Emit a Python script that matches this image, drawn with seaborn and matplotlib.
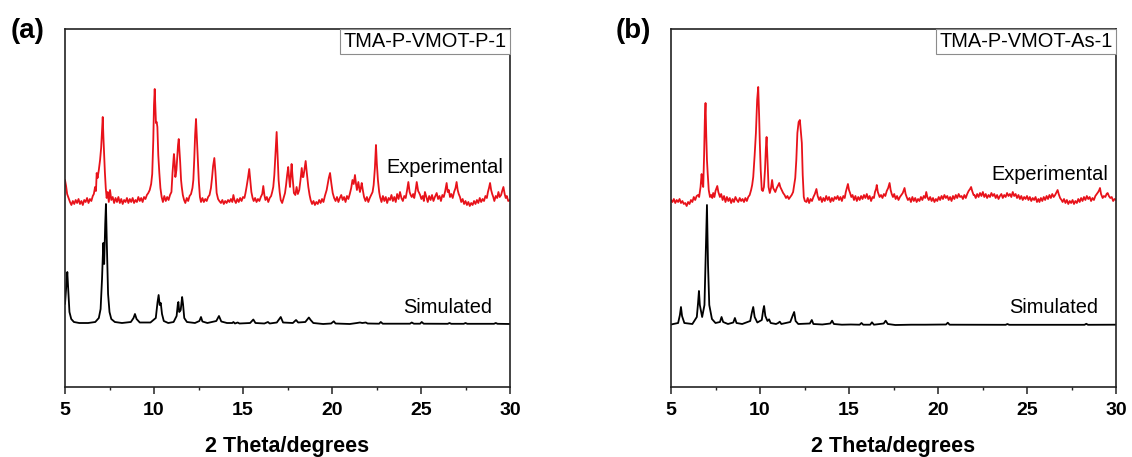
import matplotlib
matplotlib.use("Agg")
import matplotlib.pyplot as plt
from matplotlib.ticker import MultipleLocator
import seaborn as sns
import pandas as pd

# ---------------- data (2theta in degrees, intensity in a.u. above each trace's baseline) -------------
# Panel (a) TMA-P-VMOT-P-1, experimental pattern (traced vertices)
exp_a = [
    (5.00, 20), (5.06, 14), (5.12, 6), (5.20, 2), (5.28, -2), (5.36, -5), (5.44, -1), (5.52, -4),
    (5.60, 0), (5.68, -3), (5.76, 1), (5.84, -4), (5.92, -1), (6.00, -5), (6.08, 0), (6.16, -2),
    (6.24, 2), (6.32, -3), (6.40, 1), (6.48, -1), (6.56, 4), (6.62, 6), (6.69, 13), (6.74, 9),
    (6.78, 27), (6.83, 22), (6.90, 30), (6.97, 40), (7.03, 52), (7.08, 70), (7.12, 83), (7.16, 62),
    (7.20, 45), (7.24, 28), (7.29, 12), (7.34, 2), (7.40, 8), (7.46, -2), (7.53, 10), (7.60, 0),
    (7.68, 3), (7.76, -3), (7.84, 2), (7.92, -2), (8.00, 3), (8.08, -3), (8.16, 1), (8.24, -4),
    (8.32, 0), (8.40, -2), (8.48, 2), (8.56, -3), (8.64, 1), (8.72, -2), (8.80, 2), (8.88, -3),
    (8.96, 0), (9.04, -2), (9.12, 3), (9.20, -1), (9.28, 2), (9.36, -2), (9.44, 3), (9.52, 1),
    (9.60, 5), (9.68, 7), (9.76, 10), (9.84, 16), (9.90, 26), (9.96, 60), (10.00, 95), (10.04, 111),
    (10.08, 90), (10.11, 77), (10.15, 78), (10.19, 73), (10.24, 45), (10.30, 27), (10.36, 12),
    (10.43, 3), (10.50, -2), (10.58, 4), (10.66, -1), (10.74, 3), (10.82, 0), (10.90, 5), (10.98, 8),
    (11.04, 27), (11.12, 46), (11.16, 38), (11.20, 23), (11.26, 30), (11.31, 43), (11.35, 55),
    (11.39, 61), (11.43, 50), (11.47, 38), (11.52, 20), (11.56, 13), (11.62, 5), (11.69, 0),
    (11.76, -3), (11.84, 2), (11.92, -1), (12.00, 4), (12.08, 6), (12.16, 12), (12.21, 20),
    (12.26, 40), (12.31, 65), (12.36, 81), (12.41, 62), (12.47, 40), (12.52, 18), (12.58, 3),
    (12.64, -2), (12.72, 2), (12.80, -2), (12.88, 1), (12.96, -1), (13.04, 3), (13.12, 5),
    (13.20, 12), (13.26, 22), (13.32, 34), (13.39, 42), (13.45, 28), (13.52, 7), (13.60, 1),
    (13.67, -1), (13.76, -3), (13.84, 0), (13.92, -4), (14.00, -1), (14.08, -3), (14.16, 0),
    (14.24, -2), (14.32, 1), (14.40, -2), (14.46, 5), (14.52, 0), (14.60, -3), (14.68, 1),
    (14.76, -2), (14.84, 2), (14.92, -1), (15.00, 3), (15.08, 2), (15.14, 7), (15.20, 13),
    (15.28, 22), (15.35, 31), (15.41, 20), (15.47, 8), (15.54, 2), (15.60, -1), (15.68, 2),
    (15.76, -2), (15.84, 1), (15.92, -1), (16.00, 3), (16.08, 6), (16.14, 14), (16.20, 5),
    (16.26, 0), (16.34, 3), (16.42, -2), (16.50, 2), (16.58, 4), (16.64, 8), (16.70, 13),
    (16.76, 25), (16.82, 45), (16.89, 68), (16.94, 45), (17.00, 20), (17.06, 8), (17.12, 0),
    (17.20, -3), (17.28, 2), (17.36, 7), (17.42, 15), (17.48, 25), (17.54, 33), (17.59, 22),
    (17.64, 13), (17.69, 26), (17.73, 36), (17.78, 24), (17.86, 7), (17.94, 5), (18.01, 13),
    (18.08, 6), (18.16, 10), (18.23, 20), (18.30, 32), (18.35, 23), (18.39, 23), (18.45, 30),
    (18.52, 39), (18.58, 28), (18.67, 13), (18.74, 5), (18.80, 0), (18.88, -4), (18.96, -1),
    (19.04, -5), (19.12, -2), (19.20, -4), (19.28, 0), (19.36, -3), (19.44, 1), (19.52, -2),
    (19.60, 4), (19.70, 10), (19.76, 16), (19.82, 22), (19.89, 27), (19.96, 17), (20.04, 7),
    (20.12, 2), (20.20, -1), (20.28, 3), (20.36, -2), (20.44, 2), (20.52, 5), (20.60, 0),
    (20.68, 3), (20.76, -2), (20.84, 4), (20.92, 1), (21.00, 6), (21.08, 12), (21.15, 20),
    (21.22, 16), (21.29, 25), (21.35, 16), (21.40, 10), (21.48, 18), (21.53, 12), (21.57, 8),
    (21.62, 12), (21.67, 17), (21.74, 9), (21.80, 3), (21.88, -1), (21.96, 3), (22.04, -2),
    (22.12, 2), (22.20, 5), (22.28, 8), (22.34, 15), (22.41, 32), (22.47, 55), (22.52, 36),
    (22.58, 20), (22.65, 8), (22.70, 3), (22.78, -2), (22.86, 4), (22.94, -1), (23.02, 3),
    (23.10, -3), (23.18, 2), (23.26, 0), (23.34, 5), (23.42, -1), (23.50, 3), (23.58, -2),
    (23.66, 6), (23.74, 1), (23.82, 8), (23.90, 2), (23.98, -1), (24.06, 4), (24.14, 2),
    (24.22, 10), (24.29, 18), (24.36, 8), (24.42, 5), (24.48, 3), (24.56, 6), (24.62, 2),
    (24.70, 10), (24.76, 18), (24.84, 9), (24.90, 7), (24.95, 5), (25.02, 1), (25.10, 4),
    (25.16, -1), (25.22, 8), (25.30, 3), (25.38, -2), (25.46, 4), (25.54, 0), (25.62, 5),
    (25.70, -1), (25.78, 3), (25.88, 7), (25.96, 1), (26.04, 4), (26.12, -1), (26.20, 5),
    (26.28, 3), (26.36, 9), (26.44, 17), (26.50, 8), (26.56, 10), (26.63, 3), (26.70, 6),
    (26.78, 2), (26.86, 8), (26.94, 12), (27.00, 18), (27.06, 10), (27.12, 6), (27.19, 3),
    (27.26, -2), (27.34, 1), (27.42, -4), (27.50, -1), (27.58, -5), (27.66, -2), (27.74, -6),
    (27.82, -3), (27.90, -5), (27.98, -1), (28.06, -4), (28.14, 0), (28.22, -3), (28.30, 2),
    (28.38, -2), (28.46, 1), (28.54, -1), (28.62, 4), (28.70, 2), (28.76, 8), (28.82, 12),
    (28.88, 17), (28.94, 10), (29.00, 6), (29.06, 3), (29.12, -1), (29.20, 4), (29.28, 2),
    (29.35, 8), (29.42, 3), (29.50, 5), (29.56, 9), (29.63, 13), (29.70, 6), (29.76, 2),
    (29.82, 4), (29.90, -1), (30.00, 0),
]

# Panel (a) simulated pattern (traced vertices)
sim_a = [
    (5.00, 20), (5.08, 40), (5.13, 52), (5.18, 35), (5.25, 12), (5.35, 5), (5.50, 2), (5.80, 1),
    (6.30, 1), (6.70, 2), (6.90, 6), (7.00, 15), (7.08, 45), (7.15, 81), (7.20, 60), (7.26, 100),
    (7.30, 120), (7.35, 80), (7.42, 30), (7.50, 12), (7.60, 5), (7.80, 2), (8.20, 1), (8.70, 2),
    (8.85, 6), (8.93, 10), (9.02, 5), (9.20, 1.5), (9.80, 1.5), (10.10, 6), (10.20, 22),
    (10.26, 29), (10.32, 19), (10.38, 21), (10.45, 10), (10.55, 3), (10.80, 1), (11.10, 2),
    (11.27, 8), (11.34, 20), (11.37, 22), (11.42, 12), (11.50, 14), (11.58, 27), (11.63, 20),
    (11.70, 6), (11.85, 2), (12.30, 1), (12.55, 3), (12.64, 7), (12.72, 2.5), (13.00, 1),
    (13.50, 3), (13.65, 8), (13.78, 2.5), (14.10, 1), (14.40, 1), (14.46, 2), (14.55, 0.5),
    (14.70, 1.5), (14.80, 0.5), (15.40, 1), (15.58, 4.5), (15.70, 1), (16.20, 0.5), (16.40, 2),
    (16.50, 0.5), (16.90, 1.5), (17.12, 7), (17.25, 1.5), (17.80, 1), (17.98, 4), (18.10, 1.5),
    (18.50, 2), (18.70, 6.5), (18.80, 4), (18.95, 1), (19.50, 0), (19.95, 0.5), (20.10, 2.7),
    (20.20, 0.5), (21.00, 0), (21.40, 1), (21.57, 1.5), (21.70, 1), (21.90, 1.5), (22.00, 0.5),
    (22.65, 0.3), (22.74, 2), (22.85, 0.3), (24.38, 0.3), (24.48, 1.5), (24.60, 0.3), (24.95, 0.3),
    (25.04, 2), (25.15, 0.3), (26.50, 0.2), (26.60, 1), (26.70, 0.2), (27.40, 0.2), (27.50, 1),
    (27.60, 0.2), (29.10, 0.2), (29.20, 1), (29.30, 0.2), (30.00, 0),
]

# Panel (b) TMA-P-VMOT-As-1, experimental pattern (traced vertices)
exp_b = [
    (5.00, 0), (5.08, -2), (5.16, 1), (5.24, -3), (5.32, 0), (5.40, -2), (5.48, 1), (5.56, -3),
    (5.64, -1), (5.72, -4), (5.80, -3), (5.88, -6), (5.96, -2), (6.04, -4), (6.12, 0), (6.20, -2),
    (6.28, 3), (6.36, 0), (6.44, 4), (6.52, 5), (6.58, 3), (6.62, 8), (6.66, 13), (6.72, 26),
    (6.76, 18), (6.81, 13), (6.86, 45), (6.90, 80), (6.94, 97), (6.98, 65), (7.02, 40), (7.06, 27),
    (7.12, 10), (7.19, 3), (7.26, 5), (7.32, 2), (7.37, 7), (7.44, 3), (7.50, 9), (7.56, 12),
    (7.60, 14), (7.66, 8), (7.75, 3), (7.82, 6), (7.90, 0), (7.98, 4), (8.06, -2), (8.14, 3),
    (8.22, -1), (8.30, 2), (8.38, -3), (8.46, 1), (8.54, -2), (8.62, 3), (8.70, 0), (8.78, -2),
    (8.86, 2), (8.94, -1), (9.02, 1), (9.10, -2), (9.18, 2), (9.26, -1), (9.34, 3), (9.42, 5),
    (9.50, 10), (9.56, 15), (9.62, 23), (9.70, 45), (9.77, 67), (9.84, 100), (9.90, 113),
    (9.95, 85), (9.99, 57), (10.04, 30), (10.10, 10), (10.16, 9), (10.22, 13), (10.28, 30),
    (10.33, 52), (10.37, 63), (10.41, 45), (10.45, 25), (10.48, 13), (10.55, 7), (10.62, 12),
    (10.68, 20), (10.74, 12), (10.80, 10), (10.86, 8), (10.94, 12), (11.00, 14), (11.08, 17),
    (11.14, 13), (11.22, 10), (11.30, 7), (11.38, 5), (11.46, 2), (11.54, 4), (11.62, 1),
    (11.70, 3), (11.78, 5), (11.86, 8), (11.92, 15), (11.98, 22), (12.04, 40), (12.10, 67),
    (12.17, 78), (12.24, 80), (12.30, 68), (12.35, 57), (12.40, 25), (12.46, 3), (12.52, -1),
    (12.61, -2), (12.68, 2), (12.76, -3), (12.84, 1), (12.92, -1), (13.00, 3), (13.08, 6),
    (13.17, 11), (13.24, 4), (13.32, 0), (13.40, 3), (13.48, -2), (13.56, 2), (13.64, -1),
    (13.72, 4), (13.80, 0), (13.88, 3), (13.96, -2), (14.04, 2), (14.12, -1), (14.20, 3),
    (14.28, 1), (14.36, 4), (14.44, 0), (14.52, 3), (14.60, -1), (14.68, 4), (14.76, 2),
    (14.82, 8), (14.88, 12), (14.94, 16), (15.00, 10), (15.06, 7), (15.13, 3), (15.20, 5),
    (15.28, 0), (15.36, 4), (15.44, -1), (15.52, 3), (15.60, 0), (15.68, 4), (15.76, 1),
    (15.84, 5), (15.92, 2), (16.00, 6), (16.08, 1), (16.16, 4), (16.24, -1), (16.32, 3),
    (16.40, 2), (16.46, 8), (16.52, 11), (16.56, 15), (16.62, 8), (16.72, 3), (16.80, 5),
    (16.88, 2), (16.96, 6), (17.04, 4), (17.12, 9), (17.20, 12), (17.28, 17), (17.34, 10),
    (17.40, 6), (17.47, 3), (17.54, 6), (17.62, 1), (17.70, 4), (17.78, 0), (17.86, 3),
    (17.94, 5), (18.02, 7), (18.08, 10), (18.12, 12), (18.18, 6), (18.24, 3), (18.31, 0),
    (18.40, 2), (18.48, -2), (18.56, 3), (18.64, -1), (18.72, 2), (18.80, -2), (18.88, 1),
    (18.96, -1), (19.04, 3), (19.12, 0), (19.20, 4), (19.28, 2), (19.34, 8), (19.40, 3),
    (19.48, 0), (19.56, 3), (19.64, -1), (19.72, 2), (19.80, -2), (19.88, 1), (19.96, -1),
    (20.04, 3), (20.12, 0), (20.20, 4), (20.28, 1), (20.36, 5), (20.44, 2), (20.52, 4),
    (20.60, 0), (20.68, 3), (20.76, -1), (20.84, 4), (20.92, 1), (21.00, 5), (21.08, 2),
    (21.16, 6), (21.24, 3), (21.32, 4), (21.40, 1), (21.48, 5), (21.56, 2), (21.64, 6),
    (21.72, 9), (21.80, 11), (21.86, 13), (21.92, 9), (22.00, 5), (22.05, 5), (22.12, 2),
    (22.20, 6), (22.28, 3), (22.36, 7), (22.44, 4), (22.52, 8), (22.60, 3), (22.68, 6),
    (22.76, 2), (22.84, 5), (22.92, 3), (23.00, 7), (23.08, 4), (23.16, 6), (23.24, 2),
    (23.32, 5), (23.40, 1), (23.48, 4), (23.56, 6), (23.64, 2), (23.72, 5), (23.80, 3),
    (23.88, 7), (23.96, 4), (24.04, 6), (24.12, 3), (24.20, 8), (24.28, 4), (24.36, 6),
    (24.44, 2), (24.52, 5), (24.60, 1), (24.68, 4), (24.76, 0), (24.84, 3), (24.92, 1),
    (25.00, 4), (25.08, 0), (25.16, 3), (25.24, -1), (25.32, 2), (25.40, 0), (25.48, 3),
    (25.56, -2), (25.64, 1), (25.70, -2), (25.78, 2), (25.86, -1), (25.94, 3), (26.02, 0),
    (26.10, 4), (26.18, 1), (26.26, 5), (26.34, 2), (26.42, 6), (26.50, 3), (26.58, 5),
    (26.66, 8), (26.72, 10), (26.78, 6), (26.86, 2), (26.94, 0), (27.00, -2), (27.08, 1),
    (27.16, -3), (27.24, 0), (27.32, -4), (27.40, -1), (27.48, -3), (27.56, 0), (27.64, -4),
    (27.72, -1), (27.80, -3), (27.88, 1), (27.96, -2), (28.04, 2), (28.12, -1), (28.20, 3),
    (28.28, 0), (28.36, 4), (28.44, 1), (28.52, 3), (28.60, -1), (28.68, 2), (28.76, 0),
    (28.84, 4), (28.92, 6), (29.00, 8), (29.06, 10), (29.10, 12), (29.16, 6), (29.25, 2),
    (29.32, 4), (29.40, 3), (29.47, 6), (29.53, 7), (29.60, 4), (29.68, 2), (29.76, 3),
    (29.84, -1), (29.92, 1), (30.00, 0),
]

# Panel (b) simulated pattern (traced vertices)
sim_b = [
    (5.00, 0.5), (5.40, 2), (5.50, 10), (5.56, 18), (5.62, 9), (5.75, 2), (6.20, 1), (6.45, 8),
    (6.52, 22), (6.57, 34), (6.62, 20), (6.75, 8), (6.88, 20), (6.95, 70), (7.02, 120), (7.08, 60),
    (7.15, 20), (7.30, 6), (7.50, 2), (7.75, 3), (7.84, 8), (7.93, 3), (8.20, 1), (8.50, 2.5),
    (8.59, 7), (8.68, 2), (9.00, 1), (9.45, 4), (9.55, 13), (9.62, 18), (9.70, 8), (9.85, 2.5),
    (10.10, 5), (10.18, 15), (10.23, 19), (10.30, 9), (10.42, 4), (10.51, 5.7), (10.60, 2),
    (10.90, 1), (11.02, 2), (11.11, 3.3), (11.20, 1), (11.70, 3), (11.85, 10), (11.92, 13),
    (12.00, 4), (12.15, 1), (12.80, 1.5), (12.91, 5), (13.00, 1), (13.50, 0.5), (13.95, 1.5),
    (14.05, 4.3), (14.15, 1), (14.60, 0.3), (15.10, 0.5), (15.60, 0.3), (15.70, 2), (15.80, 0.3),
    (16.19, 0.3), (16.29, 2.7), (16.40, 0.3), (16.95, 1.5), (17.06, 4.3), (17.18, 1), (17.60, 0),
    (18.50, 0.3), (19.30, 0.3), (20.45, 0.5), (20.55, 2.3), (20.65, 0.3), (23.80, 0.2),
    (23.90, 1), (24.00, 0.2), (28.23, 0.2), (28.33, 1.2), (28.43, 0.2), (30.00, 0.3),
]

# Vertical offsets of the stacked traces (a.u.)
exp_offset = [187, 187]
sim_offset = [63, 62]

panel_letters = ["(a)", "(b)"]
sample_names = ["TMA-P-VMOT-P-1", "TMA-P-VMOT-As-1"]
trace_names = ["Experimental", "Simulated"]
x_label = "2 Theta/degrees"
x_ticks = [5, 10, 15, 20, 25, 30]

# label anchors (data units): (x_right, y_baseline)
exp_label_pos = [(29.6, 214), (29.55, 207)]
sim_label_pos = [(29.0, 74), (29.0, 74)]

RED = "#e8121a"

# ---------------- figure ----------------
sns.set_style("white")
plt.rcParams["font.family"] = ["Liberation Sans", "DejaVu Sans"]
plt.rcParams["text.color"] = "black"
plt.rcParams["axes.labelcolor"] = "black"
plt.rcParams["xtick.color"] = "black"
plt.rcParams["xtick.labelcolor"] = "black"

W, H = 1132, 457
fig = plt.figure(figsize=(W / 100, H / 100), dpi=100)
ax_h = 358.5 / H
ax_b = (H - 387) / H
axes = [fig.add_axes([65 / W, ax_b, 445 / W, ax_h]),
        fig.add_axes([671 / W, ax_b, 445 / W, ax_h])]

panels = [(exp_a, sim_a), (exp_b, sim_b)]
letter_x = [11, 616]

for i, ax in enumerate(axes):
    exp, sim = panels[i]
    df = pd.concat([
        pd.DataFrame({"two_theta": [p[0] for p in exp],
                      "intensity": [p[1] + exp_offset[i] for p in exp],
                      "pattern": trace_names[0]}),
        pd.DataFrame({"two_theta": [p[0] for p in sim],
                      "intensity": [p[1] + sim_offset[i] for p in sim],
                      "pattern": trace_names[1]}),
    ], ignore_index=True)
    sns.lineplot(data=df, x="two_theta", y="intensity", hue="pattern",
                 palette={trace_names[0]: RED, trace_names[1]: "black"},
                 estimator=None, sort=False, legend=False, linewidth=1.3, ax=ax)

    ax.set_xlim(5, 30)
    ax.set_ylim(0, 358.5)
    ax.set_yticks([])
    ax.set_ylabel("")
    ax.xaxis.set_minor_locator(MultipleLocator(2.5))
    ax.set_xticks(x_ticks)
    ax.tick_params(axis="x", which="major", direction="out", length=5, width=1.1,
                   color="#222222", pad=6, labelsize=14, bottom=True)
    ax.tick_params(axis="x", which="minor", direction="out", length=2.5, width=1.0,
                   color="#222222", bottom=True)
    for lab in ax.get_xticklabels():
        lab.set_fontweight("bold")
    ax.set_xlabel(x_label, fontsize=15.5, fontweight="bold", labelpad=12)
    for sp in ax.spines.values():
        sp.set_visible(True)
        sp.set_color("#222222")
        sp.set_linewidth(1.2)

    ax.text(exp_label_pos[i][0], exp_label_pos[i][1], trace_names[0], ha="right",
            va="baseline", fontsize=14.4)
    ax.text(sim_label_pos[i][0], sim_label_pos[i][1], trace_names[1], ha="right",
            va="baseline", fontsize=14.4)
    ax.text(1 - 3.5 / 445, 1 - 3.5 / 358.5, sample_names[i], transform=ax.transAxes,
            ha="right", va="top", fontsize=14.4,
            bbox=dict(boxstyle="square,pad=0.17", fc="white", ec="#8c8c8c", lw=0.8))

    fig.text(letter_x[i] / W, 1 - 18 / H, panel_letters[i], ha="left", va="top",
             fontsize=20, fontweight="bold")

fig.savefig("out.png", dpi=100)
